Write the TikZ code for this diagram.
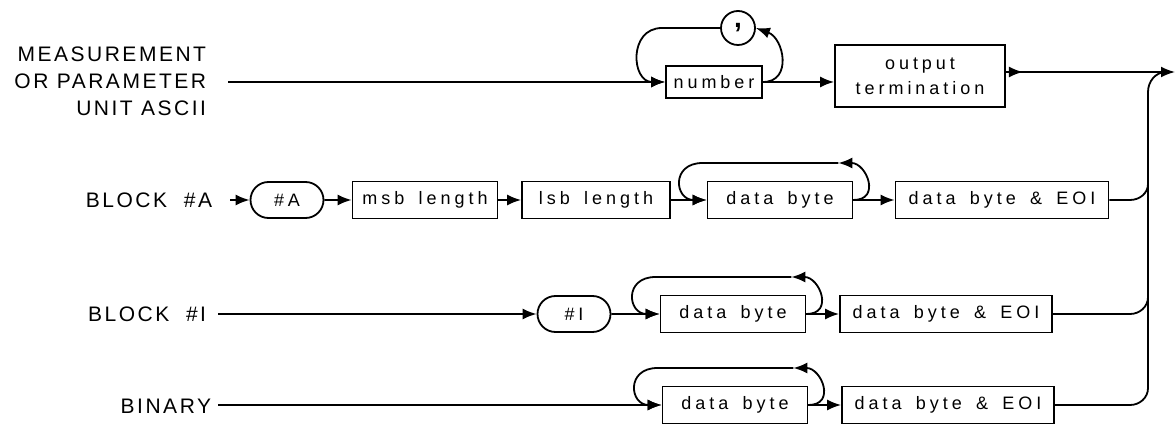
\documentclass[tikz,border=0pt]{standalone}
\usepackage{fontspec}
\setmainfont{Liberation Sans}
\newfontfamily\pLabelFont{Liberation Sans}[LetterSpace=12]
\newfontfamily\pBoxFont{Liberation Sans}[LetterSpace=22,WordSpace=1.6]
\usetikzlibrary{arrows.meta,shapes.misc}
\newcommand{\pByteLoop}[1]{%
  \draw[->] (#1.east) to[out=0,in=0,looseness=1.8] ([xshift=-15pt,yshift=37pt]#1.east);
  \draw[->] ([xshift=-15pt,yshift=37pt]#1.east) -- ([xshift=-4pt,yshift=37pt]#1.west) to[out=180,in=180,looseness=2.2] (#1.west);
}

\begin{document}
\begin{tikzpicture}[x=1pt,y=-1pt,line width=1.8pt,
  >={Latex[length=14pt,width=11pt]},
  lbl/.style={font=\pLabelFont\fontsize{21}{27}\selectfont, align=right, anchor=east, inner sep=0pt},
  syntBox/.style={draw, rectangle, font=\pBoxFont\fontsize{18}{25}\selectfont, align=center, inner sep=0pt, minimum height=37pt},
  litBox/.style={draw, rounded rectangle, font=\pBoxFont\fontsize{18}{25}\selectfont, inner sep=0pt, minimum width=73pt, minimum height=36pt}]
\useasboundingbox (0,0) rectangle (1175,427);
% measurement / parameter / unit
\node[lbl] (labMeas) at (207,81) {MEASUREMENT\\OR PARAMETER\\UNIT ASCII};
\coordinate (measStart) at (228,82);
\node[syntBox, minimum width=96pt, minimum height=32pt] (numberBox) at (714,82) {number};
\node[draw, circle, minimum size=34pt, inner sep=0pt, text height=8pt, text depth=8pt, font=\bfseries\fontsize{28}{28}\selectfont] (commaCirc) at (738,28) {,};
\node[syntBox, minimum width=170pt, minimum height=62pt] (outTerm) at (920,76) {output\\termination};
\coordinate (outEnd) at (1175,72);
\coordinate (busJoin) at (1166,72);
\draw[->] (measStart) -- (numberBox.west);
\draw[->] (commaCirc.west) -- (662,28) to[out=180,in=180,looseness=1.6] (numberBox.west);
\draw[->] (numberBox.east) to[out=0,in=-20,looseness=1.4] (commaCirc.east);
\draw[->] (numberBox.east) -- (numberBox.east -| outTerm.west);
\draw[->] (outTerm.east |- outEnd) -- ++(17,0);
\draw[->] (outTerm.east |- outEnd) -- (outEnd);
% block #A
\node[lbl] (labBlockA) at (213,200) {BLOCK\ \ \#A};
\coordinate (blockAStart) at (230,200);
\node[litBox] (hashA) at (287,200) {\#A};
\node[syntBox, minimum width=145pt] (msbBox) at (425,200) {msb length};
\node[syntBox, minimum width=148pt] (lsbBox) at (596,200) {lsb length};
\node[syntBox, minimum width=145pt] (dataA) at (780,200) {data byte};
\node[syntBox, minimum width=213pt] (eoiA) at (1002,200) {data byte \& EOI};
\draw[->] (blockAStart) -- (hashA);
\draw[->] (hashA) -- (msbBox);
\draw[->] (msbBox) -- (lsbBox);
\draw[->] (lsbBox) -- (dataA);
\draw[->] (dataA) -- (eoiA);
\pByteLoop{dataA}
% block #I
\node[lbl] (labBlockI) at (207,314) {BLOCK\ \ \#I};
\coordinate (blockIStart) at (218,314);
\node[litBox] (hashI) at (574,314) {\#I};
\node[syntBox, minimum width=145pt] (dataI) at (733,314) {data byte};
\node[syntBox, minimum width=212pt] (eoiI) at (946,314) {data byte \& EOI};
\draw[->] (blockIStart) -- (hashI);
\draw[->] (hashI) -- (dataI);
\draw[->] (dataI) -- (eoiI);
\pByteLoop{dataI}
% binary
\node[lbl] (labBinary) at (212,406) {BINARY};
\coordinate (binStart) at (218,405);
\node[syntBox, minimum width=145pt] (dataB) at (735,405) {data byte};
\node[syntBox, minimum width=212pt] (eoiB) at (948,405) {data byte \& EOI};
\draw[->] (binStart) -- (dataB);
\draw[->] (dataB) -- (eoiB);
\pByteLoop{dataB}
% merge bus
\coordinate (busTop) at (1148,92);
\coordinate (busLow) at (1148,388);
\draw (eoiA.east) -- (1130,200) to[out=0,in=-90] (1148,184);
\draw (eoiI.east) -- (1130,314) to[out=0,in=-90] (1148,297);
\draw (eoiB.east) -- (1130,405) to[out=0,in=-90] (busLow);
\draw (busLow) -- (busTop) to[out=90,in=180] (busJoin);
\end{tikzpicture}
\end{document}
